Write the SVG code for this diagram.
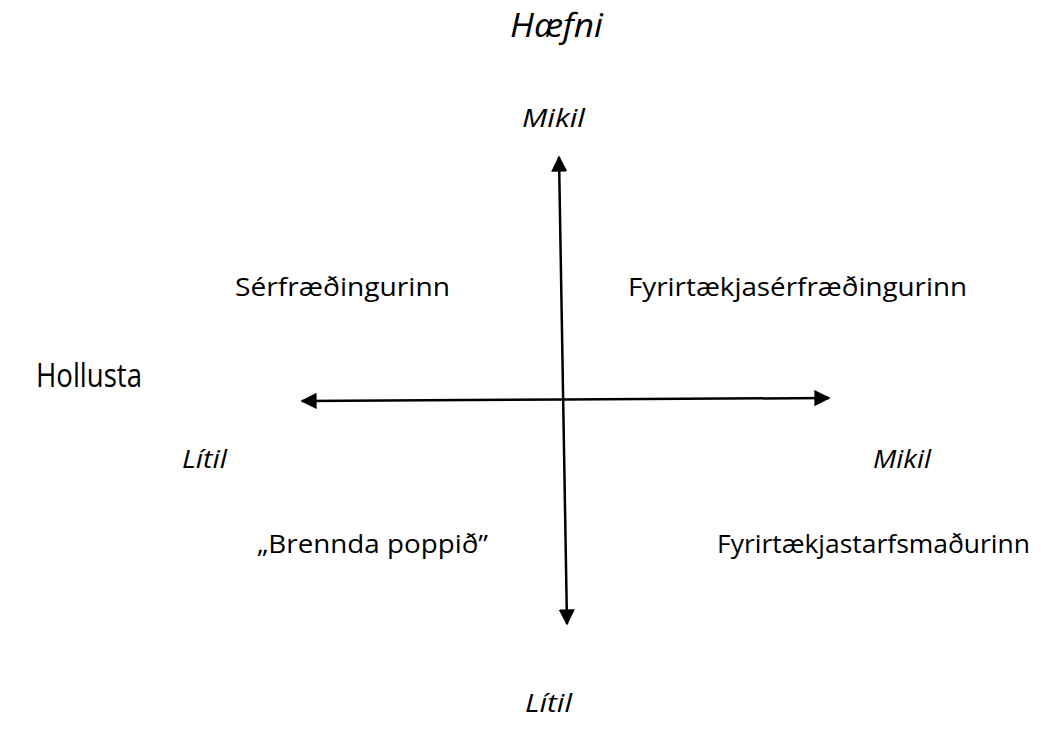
<svg xmlns="http://www.w3.org/2000/svg" width="1046" height="735" viewBox="0 0 1046 735">
<style>
.t{font-family:"Open Sans","Liberation Sans",sans-serif;fill:#000;}
.i{font-style:italic;}
.ax{stroke:#000;stroke-width:2.5;fill:none;}
</style>
<defs>
<marker id="ah" viewBox="0 0 10 10" refX="9" refY="5" markerWidth="6.5" markerHeight="6.5" markerUnits="strokeWidth" orient="auto">
<path d="M0,0 L10,5 L0,10 z" fill="#000"/>
</marker>
</defs>
<rect width="1046" height="735" fill="#fff"/>
<g id="connectors">
<line class="ax" x1="563" y1="390" x2="559" y2="157" marker-end="url(#ah)"/>
<line class="ax" x1="563" y1="390" x2="567" y2="624" marker-end="url(#ah)"/>
<line class="ax" x1="563" y1="399.5" x2="302" y2="401" marker-end="url(#ah)"/>
<line class="ax" x1="563" y1="399.5" x2="829" y2="398" marker-end="url(#ah)"/>
</g>
<g id="title-haefni"><text class="t i" x="510" y="37" font-size="33" textLength="93" lengthAdjust="spacingAndGlyphs">Hæfni</text></g>
<g id="top-mikil"><text class="t i" x="522" y="127" font-size="26" textLength="63" lengthAdjust="spacingAndGlyphs">Mikil</text></g>
<g id="serfraedingurinn"><text class="t" x="235" y="296" font-size="26" textLength="215" lengthAdjust="spacingAndGlyphs">Sérfræðingurinn</text></g>
<g id="fyrirtaekjaserfraedingurinn"><text class="t" x="628" y="296" font-size="26" textLength="339" lengthAdjust="spacingAndGlyphs">Fyrirtækjasérfræðingurinn</text></g>
<g id="hollusta"><text class="t" x="36" y="387" font-size="33" textLength="106" lengthAdjust="spacingAndGlyphs">Hollusta</text></g>
<g id="left-litil"><text class="t i" x="182" y="468" font-size="26" textLength="45" lengthAdjust="spacingAndGlyphs">Lítil</text></g>
<g id="right-mikil"><text class="t i" x="873" y="468" font-size="26" textLength="58" lengthAdjust="spacingAndGlyphs">Mikil</text></g>
<g id="brennda-poppid"><text class="t" x="257" y="553" font-size="26" textLength="231" lengthAdjust="spacingAndGlyphs">„Brennda poppið”</text></g>
<g id="fyrirtaekjastarfsmadurinn"><text class="t" x="717" y="553" font-size="26" textLength="313" lengthAdjust="spacingAndGlyphs">Fyrirtækjastarfsmaðurinn</text></g>
<g id="bottom-litil"><text class="t i" x="525" y="712" font-size="26" textLength="47" lengthAdjust="spacingAndGlyphs">Lítil</text></g>
</svg>
